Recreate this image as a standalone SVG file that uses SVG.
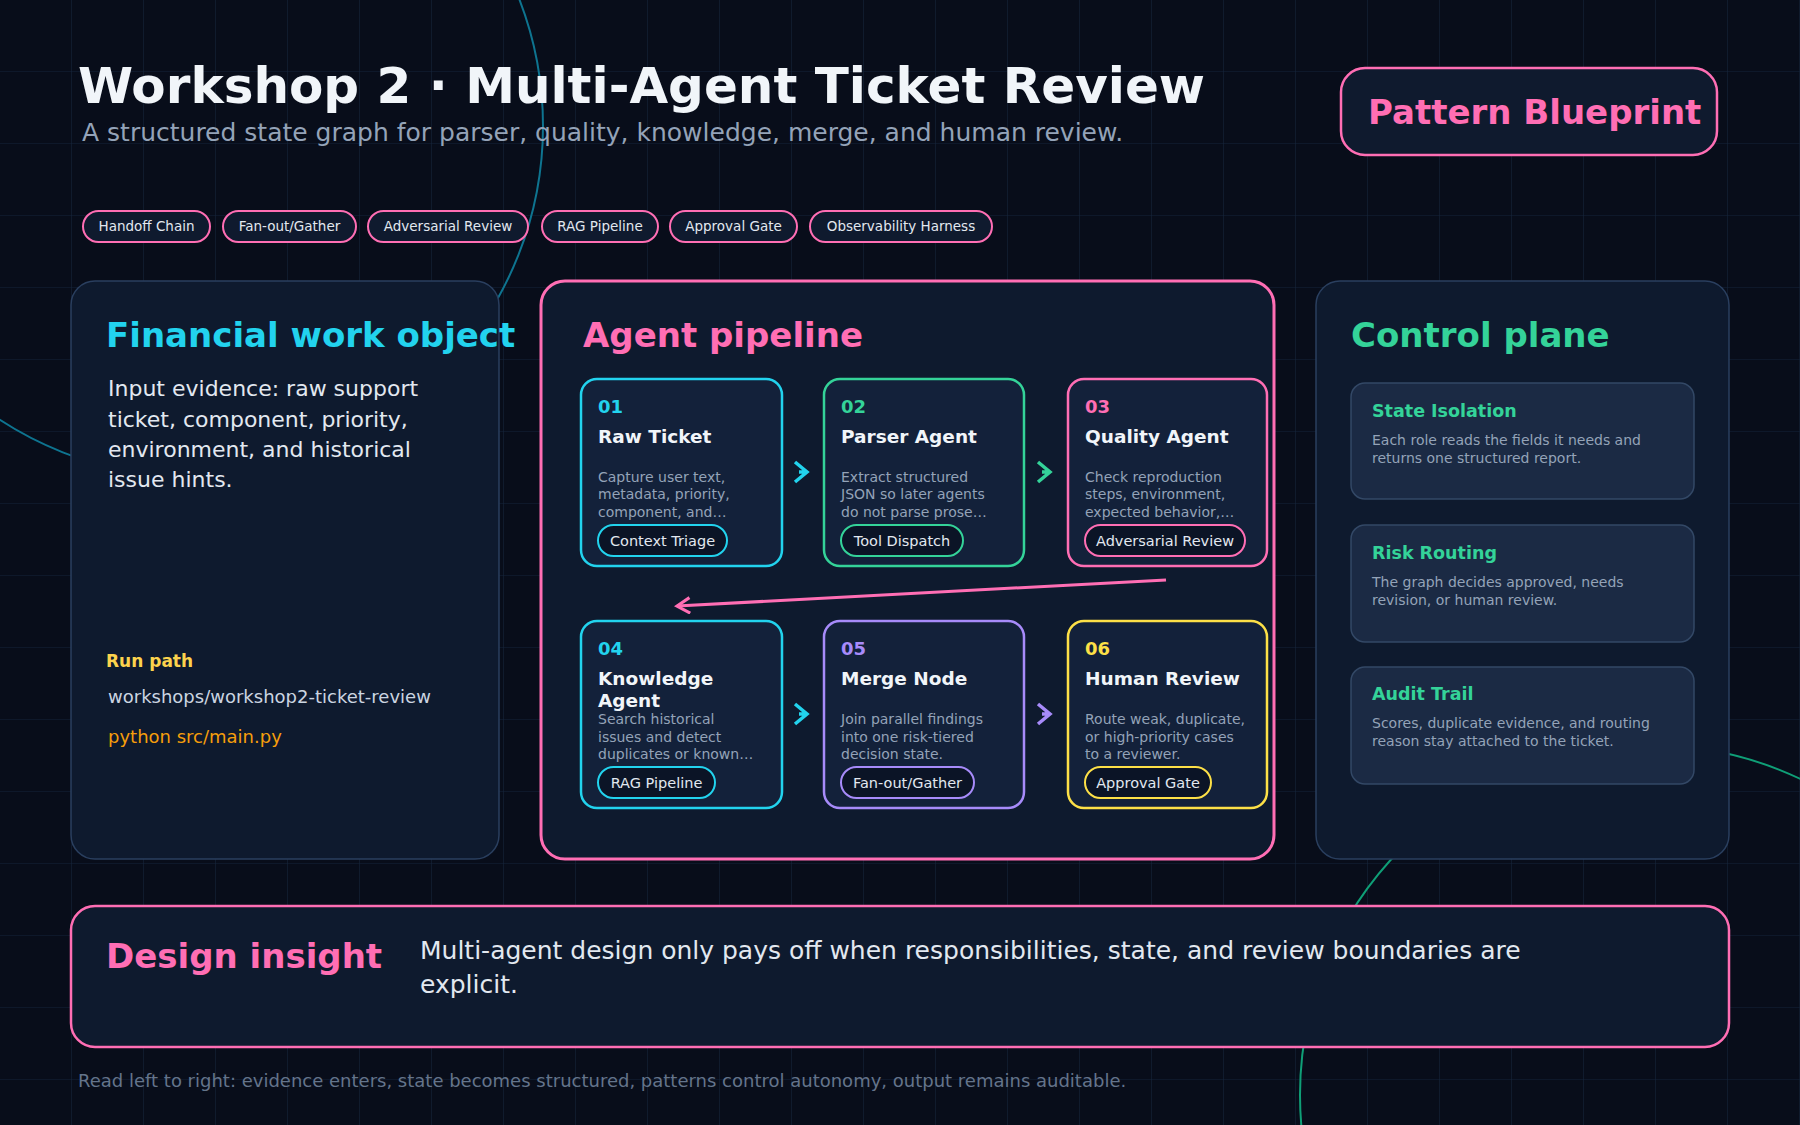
<svg xmlns="http://www.w3.org/2000/svg" width="1800" height="1125" viewBox="0 0 1800 1125">
<defs>
<pattern id="grid" width="72" height="72" patternUnits="userSpaceOnUse"><path d="M72 0V72M0 72H72" fill="none" stroke="#14233a" stroke-width="1.2"/></pattern>
<marker id="ah" viewBox="0 0 14 14" refX="12" refY="7" markerWidth="18" markerHeight="18" markerUnits="userSpaceOnUse" orient="auto"><path d="M2 1L12 7L2 13" fill="none" stroke="#ff6eb4" stroke-width="2.4"/></marker>
</defs>
<style>
text{font-family:"DejaVu Sans","Liberation Sans",sans-serif}
.panel{fill:#0e1a2e;stroke:#2a3f5f;stroke-width:1.5}
.card{fill:#13213a;stroke-width:2.5}
.num{font-size:18px;font-weight:bold}
.ct{font-size:18.5px;font-weight:bold;fill:#f1f5f9}
.cd{font-size:14px;fill:#94a3b8}
.tag{fill:#0b1426;stroke-width:2}
.tt{font-size:14.5px;fill:#e2e8f0}
.pill{fill:#0f1a2e;stroke:#ff6eb4;stroke-width:2}
.pt{font-size:13.5px;fill:#e2e8f0}
.sub{fill:#1b2a44;stroke:#334866;stroke-width:1.5}
.st{font-size:17.5px;font-weight:bold;fill:#34d399}
.sd{font-size:14px;fill:#94a3b8}
.chev{fill:none;stroke-width:3.5;stroke-linejoin:miter}
</style>
<rect width="1800" height="1125" fill="#080d1a"/>
<rect width="1800" height="1125" fill="url(#grid)"/>
<circle cx="192" cy="126" r="351" fill="none" stroke="#0e7490" stroke-width="2"/>
<circle cx="1650" cy="1095" r="350" fill="none" stroke="#0f9f77" stroke-width="2"/>

<text x="78" y="103" font-size="50" font-weight="bold" fill="#f1f5f9">Workshop 2 · Multi-Agent Ticket Review</text>
<text x="82" y="141" font-size="25" fill="#94a3b8">A structured state graph for parser, quality, knowledge, merge, and human review.</text>

<g id="pattern-blueprint"><rect x="1341" y="68" width="376" height="87" rx="24" fill="#0f1a2e" stroke="#ff6eb4" stroke-width="2.5"/>
<text x="1368" y="124" font-size="34" font-weight="bold" fill="#ff6eb4">Pattern Blueprint</text></g>

<g id="pills">
<rect class="pill" x="83" y="211" width="127" height="31" rx="15.5"/><text class="pt" x="146.5" y="231" text-anchor="middle">Handoff Chain</text>
<rect class="pill" x="223" y="211" width="133" height="31" rx="15.5"/><text class="pt" x="289.5" y="231" text-anchor="middle">Fan-out/Gather</text>
<rect class="pill" x="368" y="211" width="160" height="31" rx="15.5"/><text class="pt" x="448" y="231" text-anchor="middle">Adversarial Review</text>
<rect class="pill" x="542" y="211" width="116" height="31" rx="15.5"/><text class="pt" x="600" y="231" text-anchor="middle">RAG Pipeline</text>
<rect class="pill" x="670" y="211" width="127" height="31" rx="15.5"/><text class="pt" x="733.5" y="231" text-anchor="middle">Approval Gate</text>
<rect class="pill" x="810" y="211" width="182" height="31" rx="15.5"/><text class="pt" x="901" y="231" text-anchor="middle">Observability Harness</text>
</g>

<g id="work-object">
<rect class="panel" x="71" y="281" width="428" height="578" rx="24"/>
<text x="106" y="347" font-size="34" font-weight="bold" fill="#22d3ee">Financial work object</text>
<text font-size="22" fill="#e2e8f0"><tspan x="108" y="396">Input evidence: raw support</tspan><tspan x="108" y="427">ticket, component, priority,</tspan><tspan x="108" y="457">environment, and historical</tspan><tspan x="108" y="487">issue hints.</tspan></text>
<text x="106" y="667" font-size="17" font-weight="bold" fill="#fcd34d">Run path</text>
<text x="108" y="703" font-size="18" fill="#cbd5e1">workshops/workshop2-ticket-review</text>
<text x="108" y="743" font-size="18" fill="#f59e0b">python src/main.py</text>
</g>

<g id="agent-pipeline">
<rect x="541" y="281" width="733" height="578" rx="24" fill="#0e1a2e" stroke="#ff6eb4" stroke-width="3"/>
<text x="583" y="347" font-size="34" font-weight="bold" fill="#ff6eb4">Agent pipeline</text>
</g>

<g id="card-01"><rect class="card" x="581" y="379" width="201" height="187" rx="16" stroke="#22d3ee"/>
<text class="num" x="598" y="413" fill="#22d3ee">01</text><text class="ct" x="598" y="443">Raw Ticket</text>
<text class="cd"><tspan x="598" y="482">Capture user text,</tspan><tspan x="598" y="499">metadata, priority,</tspan><tspan x="598" y="517">component, and…</tspan></text>
<rect class="tag" x="598" y="525" width="129" height="31" rx="15.5" stroke="#22d3ee"/><text class="tt" x="662.5" y="545.5" text-anchor="middle">Context Triage</text></g>

<g id="card-02"><rect class="card" x="824" y="379" width="200" height="187" rx="16" stroke="#34d399"/>
<text class="num" x="841" y="413" fill="#34d399">02</text><text class="ct" x="841" y="443">Parser Agent</text>
<text class="cd"><tspan x="841" y="482">Extract structured</tspan><tspan x="841" y="499">JSON so later agents</tspan><tspan x="841" y="517">do not parse prose…</tspan></text>
<rect class="tag" x="841" y="525" width="122" height="31" rx="15.5" stroke="#34d399"/><text class="tt" x="902" y="545.5" text-anchor="middle">Tool Dispatch</text></g>

<g id="card-03"><rect class="card" x="1068" y="379" width="199" height="187" rx="16" stroke="#ff6eb4"/>
<text class="num" x="1085" y="413" fill="#ff6eb4">03</text><text class="ct" x="1085" y="443">Quality Agent</text>
<text class="cd"><tspan x="1085" y="482">Check reproduction</tspan><tspan x="1085" y="499">steps, environment,</tspan><tspan x="1085" y="517">expected behavior,…</tspan></text>
<rect class="tag" x="1085" y="525" width="160" height="31" rx="15.5" stroke="#ff6eb4"/><text class="tt" x="1165" y="545.5" text-anchor="middle">Adversarial Review</text></g>

<g id="card-04"><rect class="card" x="581" y="621" width="201" height="187" rx="16" stroke="#22d3ee"/>
<text class="num" x="598" y="655" fill="#22d3ee">04</text><text class="ct"><tspan x="598" y="685">Knowledge</tspan><tspan x="598" y="707">Agent</tspan></text>
<text class="cd"><tspan x="598" y="724">Search historical</tspan><tspan x="598" y="742">issues and detect</tspan><tspan x="598" y="759">duplicates or known…</tspan></text>
<rect class="tag" x="598" y="767" width="117" height="31" rx="15.5" stroke="#22d3ee"/><text class="tt" x="656.5" y="787.5" text-anchor="middle">RAG Pipeline</text></g>

<g id="card-05"><rect class="card" x="824" y="621" width="200" height="187" rx="16" stroke="#a78bfa"/>
<text class="num" x="841" y="655" fill="#a78bfa">05</text><text class="ct" x="841" y="685">Merge Node</text>
<text class="cd"><tspan x="841" y="724">Join parallel findings</tspan><tspan x="841" y="742">into one risk-tiered</tspan><tspan x="841" y="759">decision state.</tspan></text>
<rect class="tag" x="841" y="767" width="133" height="31" rx="15.5" stroke="#a78bfa"/><text class="tt" x="907.5" y="787.5" text-anchor="middle">Fan-out/Gather</text></g>

<g id="card-06"><rect class="card" x="1068" y="621" width="199" height="187" rx="16" stroke="#fde047"/>
<text class="num" x="1085" y="655" fill="#fde047">06</text><text class="ct" x="1085" y="685">Human Review</text>
<text class="cd"><tspan x="1085" y="724">Route weak, duplicate,</tspan><tspan x="1085" y="742">or high-priority cases</tspan><tspan x="1085" y="759">to a reviewer.</tspan></text>
<rect class="tag" x="1085" y="767" width="126" height="31" rx="15.5" stroke="#fde047"/><text class="tt" x="1148" y="787.5" text-anchor="middle">Approval Gate</text></g>

<g id="connectors">
<path class="chev" d="M795 462L807 472L795 482M799 472H807" stroke="#22d3ee"/>
<path class="chev" d="M1038 462L1050 472L1038 482M1042 472H1050" stroke="#34d399"/>
<path class="chev" d="M795 704L807 714L795 724M799 714H807" stroke="#22d3ee"/>
<path class="chev" d="M1038 704L1050 714L1038 724M1042 714H1050" stroke="#a78bfa"/>
<path d="M1166 580L677 606" fill="none" stroke="#ff6eb4" stroke-width="3" marker-end="url(#ah)"/>
</g>

<g id="control-plane">
<rect class="panel" x="1316" y="281" width="413" height="578" rx="24"/>
<text x="1351" y="347" font-size="34" font-weight="bold" fill="#34d399">Control plane</text>
</g>
<g id="state-isolation"><rect class="sub" x="1351" y="383" width="343" height="116" rx="14"/>
<text class="st" x="1372" y="417">State Isolation</text>
<text class="sd"><tspan x="1372" y="445">Each role reads the fields it needs and</tspan><tspan x="1372" y="463">returns one structured report.</tspan></text></g>
<g id="risk-routing"><rect class="sub" x="1351" y="525" width="343" height="117" rx="14"/>
<text class="st" x="1372" y="559">Risk Routing</text>
<text class="sd"><tspan x="1372" y="587">The graph decides approved, needs</tspan><tspan x="1372" y="605">revision, or human review.</tspan></text></g>
<g id="audit-trail"><rect class="sub" x="1351" y="667" width="343" height="117" rx="14"/>
<text class="st" x="1372" y="700">Audit Trail</text>
<text class="sd"><tspan x="1372" y="728">Scores, duplicate evidence, and routing</tspan><tspan x="1372" y="746">reason stay attached to the ticket.</tspan></text></g>

<g id="design-insight"><rect x="71" y="906" width="1658" height="141" rx="24" fill="#0e1a2e" stroke="#ff6eb4" stroke-width="2.5"/>
<text x="106" y="968" font-size="34" font-weight="bold" fill="#ff6eb4">Design insight</text>
<text font-size="25" fill="#e2e8f0"><tspan x="420" y="959">Multi-agent design only pays off when responsibilities, state, and review boundaries are</tspan><tspan x="420" y="993">explicit.</tspan></text></g>

<text x="78" y="1087" font-size="18" fill="#64748b">Read left to right: evidence enters, state becomes structured, patterns control autonomy, output remains auditable.</text>
</svg>
